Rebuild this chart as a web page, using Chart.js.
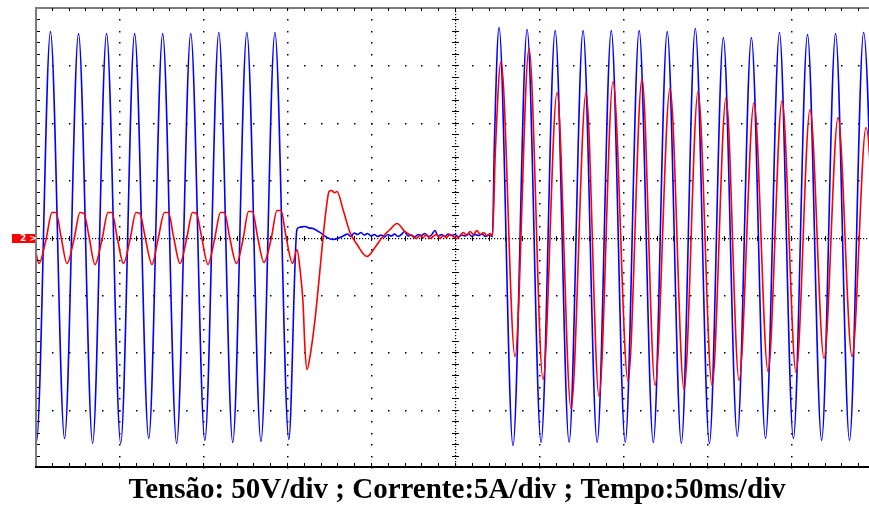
<!DOCTYPE html>
<html>
<head>
<meta charset="utf-8">
<title>Tensão e corrente</title>
<script src="https://cdn.jsdelivr.net/npm/chart.js@4"></script>
<style>
  body { margin: 0; background: #fff; overflow: hidden; }
  canvas { display: block; }
</style>
</head>
<body>
<canvas id="scope" width="869" height="505"></canvas>
<script>
// =========================
// WAVEFORM DATA (time in ms, voltage in V, current in A)
// =========================
const voltageMs = [
  0, 0.9, 9.2, 17.6, 25.9, 34.3, 42.6, 51.0, 59.3, 67.7, 76.0, 84.3, 92.7, 101.1, 109.4, 117.7, 126.1, 134.5, 142.8, 151.1,
  155.9, 157.5, 160.7, 163.0, 165.5, 169.6, 173.8, 177.4, 181.5,
  184, 186, 188, 190, 192, 194, 196, 198, 200, 202, 204, 206, 208, 210, 212, 214, 216, 218, 220, 222,
  224, 226, 228, 230, 232, 234, 236, 238, 240, 242, 244, 246, 248, 250, 252, 254, 256, 258, 260, 262,
  264, 266, 268, 270, 271.5, 272.3, 273.4,
  276.2, 284.5, 292.9, 301.2, 309.6, 317.9, 326.2, 334.6, 343.0, 351.3, 359.6, 368.0, 376.3, 384.7,
  393.0, 401.4, 409.7, 418.0, 426.4, 434.8, 443.1, 451.4, 459.8, 468.2, 476.5, 484.8, 493.2, 501.5
];
const voltageV = [
  -172, -177.7, 179.4, -175.1, 177.7, -179.4, 177.7, -179.4, 177.7, -175.1, 177.7, -179.4, 177.7, -176.8, 178.6, -178.6, 178.6, -177.7, 178.6, -176.0,
  7.0, 9.0, 9.6, 8.4, 7.8, 4.4, 0, -1.7, 0.0,
  1.7, 3.0, 1.0, 3.9, 2.6, 4.4, 2.2, 3.5, 1.3, 2.6, 0.9, 2.2, 0.4, 2.6, 1.3, 3.0, 0.9, 2.6, 5.2, 1.3,
  2.2, 0.4, 2.6, 1.7, 3.5, 0.9, 2.2, 6.1, 1.3, 2.6, 0.9, 3.0, 1.7, 2.6, 0.4, 2.2, 1.3, 3.5, 0.9, 2.6,
  1.7, 3.0, 0.9, 2.2, 1.3, 0.9, 80,
  182.9, -181.2, 181.2, -178.6, 180.3, -178.6, 180.3, -178.6, 180.3, -178.6, 180.3, -178.6, 179.4, -179.4,
  182.1, -179.4, 174.2, -173.3, 174.2, -175.1, 178.6, -175.1, 176.8, -176.8, 177.7, -176.8, 178.6, -177.0
];

const currentMs = [
  0, 2.38, 6.55, 10.12, 12.50, 15.48, 19.05, 23.21, 26.79, 29.17, 32.14, 35.71, 39.88, 43.45, 45.83, 48.81,
  52.68, 56.55, 60.12, 62.50, 65.48, 69.64, 73.21, 77.08, 79.46, 82.44, 86.31, 90.18, 93.75, 96.13, 99.11,
  102.98, 106.85, 110.42, 112.80, 115.77, 119.94, 123.81, 127.08, 129.46, 132.44, 136.31, 140.48, 144.05, 146.43, 149.40, 153.27,
  155.95, 157.74, 159.52, 160.71, 161.90, 163.69, 166.67, 169.64, 171.43, 173.81, 175.0, 176.5, 178.3, 179.76,
  183.33, 187.5, 191.67, 197.62, 202.38, 206.55, 211.31, 215.48, 220.24, 225.0,
  227, 229, 231, 233, 235, 237, 239, 241, 243, 245, 247, 249, 251, 253, 255, 257, 259, 261, 263, 265, 267, 269, 271, 272.3, 274.0,
  277.38, 285.71, 294.05, 302.38, 310.71, 319.05, 327.98, 335.71, 344.05, 352.98, 361.31, 369.05, 377.98, 386.31,
  394.64, 402.98, 411.31, 419.05, 427.98, 436.31, 444.64, 452.98, 461.31, 469.64, 477.98, 486.31, 494.64, 502.98
];
const currentA = [
  -0.87, -2.26, -0.17, 2.18, 2.18, 0.09, -2.26, -0.17, 2.18, 2.09, 0.09, -2.35, -0.17, 2.18, 2.18, 0.09,
  -2.26, -0.17, 2.18, 2.09, 0.09, -2.35, -0.17, 2.18, 2.18, 0.09, -2.26, -0.17, 2.18, 2.09, 0.09,
  -2.35, -0.17, 2.18, 2.18, 0.09, -2.26, -0.17, 2.26, 2.26, 0.09, -2.18, -0.17, 2.35, 2.35, 0.09, -2.26,
  -1.05, -2.79, -5.66, -9.76, -11.50, -10.37, -7.14, -2.79, 0, 3.05, 4.01, 4.1, 3.9, 4.01,
  2.44, 0.44, -0.61, -1.66, -0.87, 0, 0.70, 1.22, 0.52, 0.09,
  -0.09, 0.17, 0.0, 0.26, -0.09, 0.09, 0.26, -0.09, 0.17, 0.0, 0.26, 0.09, -0.09, 0.17, 0.44, 0.17, 0.52, 0.26, 0.61, 0.26, 0.44, 0.17, 0.35, 0.09, 7.5,
  15.33, -10.37, 16.46, -12.37, 12.63, -14.90, 12.63, -13.85, 13.59, -12.54, 13.85, -12.89, 12.98, -13.24,
  12.72, -12.89, 12.20, -12.46, 11.76, -11.67, 11.93, -11.76, 11.15, -10.54, 10.45, -10.37, 9.58, -10.6
];

const caption = "Tensão: 50V/div ; Corrente:5A/div ; Tempo:50ms/div";

function toPoints(xs, ys) {
  return xs.map((x, i) => ({ x: x, y: ys[i] }));
}

// =========================
// SCOPE GRATICULE (dots, centre cross, frame ticks)
// =========================
const graticule = {
  id: 'graticule',
  beforeDatasetsDraw(chart) {
    const ctx = chart.ctx;
    const sx = chart.scales.x, sy = chart.scales.y;
    const area = chart.chartArea;
    ctx.save();
    ctx.fillStyle = '#000';

    // dotted rows every 50 V, one dot per 10 ms
    for (let v = -150; v <= 150; v += 50) {
      if (v === 0) continue;
      const py = Math.round(sy.getPixelForValue(v));
      for (let t = 0; t <= 500; t += 10) {
        ctx.fillRect(Math.round(sx.getPixelForValue(t)), py, 1.5, 1.5);
      }
    }
    // dotted columns every 50 ms, one dot per 10 V
    for (let t = 50; t <= 450; t += 50) {
      if (t === 250) continue;
      const px = Math.round(sx.getPixelForValue(t));
      for (let v = -200; v <= 200; v += 10) {
        ctx.fillRect(px, Math.round(sy.getPixelForValue(v)), 1.5, 1.5);
      }
    }

    // centre cross: dense dots plus minor ticks
    const cy = Math.round(sy.getPixelForValue(0));
    const cx = Math.round(sx.getPixelForValue(250));
    for (let px = area.left; px < area.right; px += 3) ctx.fillRect(px, cy, 1.2, 1.2);
    for (let py = area.top; py < area.bottom; py += 3) ctx.fillRect(cx, py, 1.2, 1.2);
    for (let t = 10; t <= 500; t += 10) {
      ctx.fillRect(Math.round(sx.getPixelForValue(t)), cy - 2, 1, 5);
    }
    for (let v = -190; v <= 190; v += 10) {
      ctx.fillRect(cx - 3, Math.round(sy.getPixelForValue(v)), 7, 1);
    }
    ctx.restore();
  },
  afterDatasetsDraw(chart) {
    const ctx = chart.ctx;
    const sx = chart.scales.x, sy = chart.scales.y;
    const area = chart.chartArea;
    ctx.save();

    // frame
    ctx.fillStyle = '#7a7a7a';
    ctx.fillRect(area.left, area.top - 1, area.right - area.left, 2);
    ctx.fillRect(area.left, area.top - 1, 2, area.bottom - area.top + 1);
    ctx.fillStyle = '#000';
    ctx.fillRect(area.left, area.bottom - 1, area.right - area.left, 2);

    // frame ticks
    for (let t = 10; t <= 500; t += 10) {
      const px = Math.round(sx.getPixelForValue(t));
      ctx.fillRect(px, area.top, 1, 3);
      ctx.fillRect(px, area.bottom - 4, 1, 3);
    }
    for (let v = -190; v <= 190; v += 10) {
      ctx.fillRect(area.left + 2, Math.round(sy.getPixelForValue(v)), 3, 1);
    }

    // channel 2 ground marker
    const gy = Math.round(sy.getPixelForValue(0));
    ctx.fillStyle = '#ff0000';
    ctx.fillRect(12, gy - 4, area.left - 12, 9);
    ctx.fillStyle = '#fff';
    ctx.font = 'bold 9px "DejaVu Sans"';
    ctx.textBaseline = 'middle';
    ctx.fillText('2 >', 20, gy + 1);

    // caption under the screen
    ctx.fillStyle = '#000';
    ctx.font = 'bold 29px "Liberation Serif"';
    ctx.textAlign = 'center';
    ctx.textBaseline = 'alphabetic';
    ctx.fillText(caption, sx.getPixelForValue(250) + 2, 498);
    ctx.restore();
  }
};

// =========================
// CHART
// =========================
const ctx = document.getElementById('scope').getContext('2d');

new Chart(ctx, {
  type: 'line',
  data: {
    datasets: [
      {
        label: 'Corrente',
        data: toPoints(currentMs, currentA),
        yAxisID: 'y1',
        borderColor: '#ff0000',
        borderWidth: 1.6,
        pointRadius: 0,
        cubicInterpolationMode: 'monotone',
        order: 0
      },
      {
        label: 'Tensão',
        data: toPoints(voltageMs, voltageV),
        yAxisID: 'y',
        borderColor: '#0000ff',
        borderWidth: 1.6,
        pointRadius: 0,
        cubicInterpolationMode: 'monotone',
        order: 1
      }
    ]
  },
  options: {
    responsive: false,
    animation: false,
    devicePixelRatio: 1,
    layout: { padding: { left: 35, top: 8, right: 0, bottom: 38 } },
    plugins: { legend: { display: false }, tooltip: { enabled: false } },
    scales: {
      x: { type: 'linear', min: 0, max: 496.4, display: false },
      y: { min: -200, max: 200, display: false },
      y1: { min: -20, max: 20, display: false }
    }
  },
  plugins: [graticule]
});
</script>
</body>
</html>
